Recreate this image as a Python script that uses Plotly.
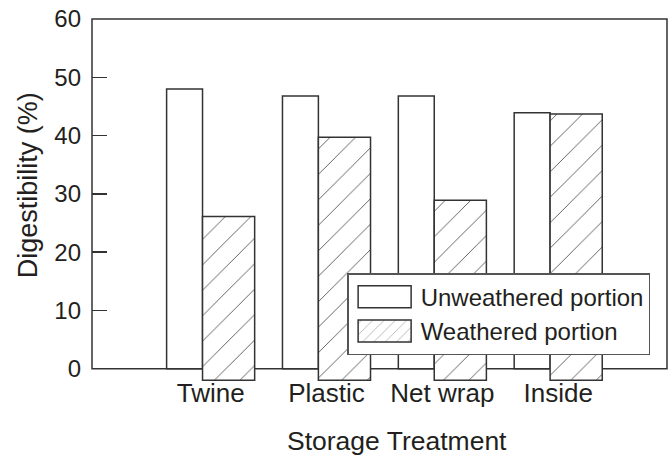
import plotly.graph_objects as go

# ---- data ----
categories = ["Twine", "Plastic", "Net wrap", "Inside"]
unweathered = [48.0, 46.8, 46.8, 43.9]
weathered = [26.1, 39.7, 28.9, 43.7]
series_names = ["Unweathered portion", "Weathered portion"]
y_tick_values = [0, 10, 20, 30, 40, 50, 60]
y_tick_labels = ["0", "10", "20", "30", "40", "50", "60"]
x_title = "Storage Treatment"
y_title = "Digestibility (%)"

# ---- style ----
TEXT = "#231f20"
LINE = "#333333"
FONT = "Liberation Sans, Arial, sans-serif"
Y_TOP = 60.0
Y_BOT = -2.11
W_BASE = -2.0          # hatched bars hang slightly below the axis
positions = [i + 1 for i in range(len(categories))]
zero_paper = (0 - Y_BOT) / (Y_TOP - Y_BOT)

fig = go.Figure()
fig.add_trace(go.Bar(
    x=positions, y=unweathered, name=series_names[0],
    width=0.31, offset=-0.31,
    marker=dict(color="white", line=dict(color=LINE, width=1.5)),
))
fig.add_trace(go.Bar(
    x=positions, y=[v - W_BASE for v in weathered], base=W_BASE,
    name=series_names[1],
    width=0.45, offset=0.0,
    marker=dict(color="white", line=dict(color=LINE, width=1.5),
                pattern=dict(shape="/", size=18, solidity=0.05,
                             fgcolor="#555555", bgcolor="white",
                             fillmode="replace")),
))

# frame from y=0 to the top
fig.add_shape(type="rect", xref="paper", yref="paper", x0=0, x1=1,
              y0=zero_paper, y1=1,
              line=dict(color=LINE, width=1.5), fillcolor="rgba(0,0,0,0)",
              layer="below")

fig.add_annotation(text=x_title, xref="paper", yref="paper", x=0.531, y=-0.167,
                   showarrow=False, font=dict(size=26.5, color=TEXT),
                   xanchor="center", yanchor="middle")
fig.add_annotation(text=y_title, xref="paper", yref="paper", x=-0.111, y=0.541,
                   showarrow=False, textangle=-90, font=dict(size=27, color=TEXT),
                   xanchor="center", yanchor="middle")

fig.update_layout(
    width=670, height=455,
    margin=dict(l=92, r=3, t=19, b=74),
    paper_bgcolor="white", plot_bgcolor="white",
    font=dict(family=FONT, size=25, color=TEXT),
    barmode="overlay",
    showlegend=True,
    hovermode=False,
    legend=dict(x=0.4437, y=0.2976, xanchor="left", yanchor="top",
                bgcolor="white", bordercolor="#555555", borderwidth=1.5,
                font=dict(size=24, color=TEXT), itemwidth=62,
                traceorder="normal"),
    xaxis=dict(range=[0.046, 5.009], tickvals=[p + 0.07 for p in positions],
               ticktext=categories, ticks="", showline=False, zeroline=False,
               showgrid=False, tickfont=dict(size=26), automargin=False,
               ticklabelstandoff=-6),
    yaxis=dict(range=[Y_BOT, Y_TOP], tickvals=y_tick_values, ticktext=y_tick_labels,
               ticks="inside", ticklen=15, tickwidth=1.5, tickcolor=LINE,
               showline=False, zeroline=False, showgrid=False,
               ticklabelstandoff=10, tickfont=dict(size=24), automargin=False),
)

post = """
document.body.style.margin = '0';
var gd = document.getElementById('{plot_id}');
gd.querySelectorAll('.legend .legendpoints path').forEach(function(p){
  p.setAttribute('d', 'M26.5,11H-26.5V-11H26.5Z');
});
"""

fig.write_html("out.html", post_script=post,
               config={"displayModeBar": False, "staticPlot": True})
